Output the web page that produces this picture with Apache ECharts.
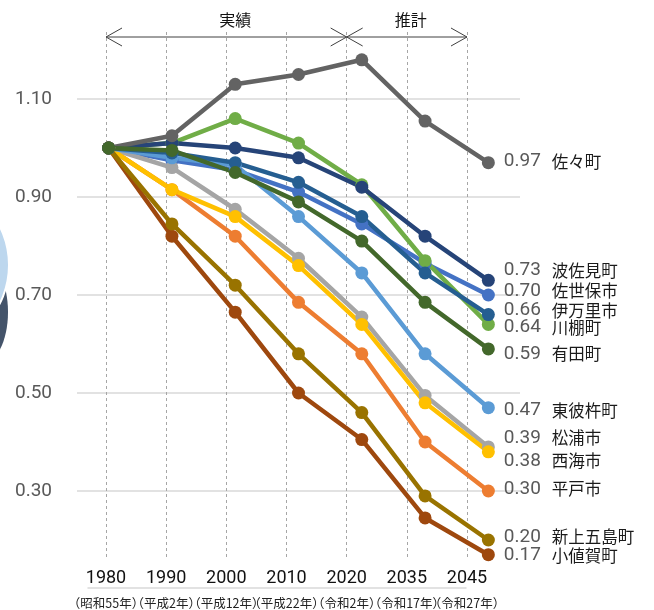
<!DOCTYPE html>
<html>
<head>
<meta charset="utf-8">
<script src="https://cdn.jsdelivr.net/npm/echarts@6/dist/echarts.min.js"></script>
<style>
  html, body { margin: 0; padding: 0; background: #ffffff; }
  #chart { width: 654px; height: 610px; }
</style>
</head>
<body>
<div id="chart"></div>
<script>
// ---- data ----
const years = ['1980', '1990', '2000', '2010', '2020', '2035', '2045'];
const eras = ['（昭和55年）', '（平成2年）', '（平成12年）', '（平成22年）', '（令和2年）', '（令和17年）', '（令和27年）'];

const sasebo      = [1.00, 0.975, 0.955, 0.91, 0.845, 0.765, 0.70];
const hirado      = [1.00, 0.915, 0.82, 0.685, 0.58, 0.40, 0.30];
const matsuura    = [1.00, 0.96, 0.875, 0.775, 0.655, 0.495, 0.39];
const saikai      = [1.00, 0.915, 0.86, 0.76, 0.64, 0.48, 0.38];
const higashisonogi = [1.00, 0.98, 0.965, 0.86, 0.745, 0.58, 0.47];
const kawatana    = [1.00, 1.01, 1.06, 1.01, 0.925, 0.77, 0.64];
const hasami      = [1.00, 1.01, 1.00, 0.98, 0.92, 0.82, 0.73];
const ojika       = [1.00, 0.82, 0.665, 0.50, 0.405, 0.245, 0.17];
const saza        = [1.00, 1.025, 1.13, 1.15, 1.18, 1.055, 0.97];
const shinkamigoto = [1.00, 0.845, 0.72, 0.58, 0.46, 0.29, 0.20];
const imari       = [1.00, 0.99, 0.97, 0.93, 0.86, 0.745, 0.66];
const arita       = [1.00, 0.995, 0.95, 0.89, 0.81, 0.685, 0.59];

const seriesNames = ['佐世保市', '平戸市', '松浦市', '西海市', '東彼杵町', '川棚町', '波佐見町', '小値賀町', '佐々町', '新上五島町', '伊万里市', '有田町'];
const seriesValues = [sasebo, hirado, matsuura, saikai, higashisonogi, kawatana, hasami, ojika, saza, shinkamigoto, imari, arita];

// ---- styles ----
const colors = ['#4472c4', '#ed7d31', '#a5a5a5', '#ffc000', '#5b9bd5', '#70ad47', '#264478', '#9e480e', '#636363', '#997300', '#255e91', '#43682b'];
const labelDy = [-4, -2, -9, 9, 3, 3, -10, 1, -1, -3, -4, 5];

const FONT = 'Roboto, "Noto Sans CJK JP", sans-serif';
const JP = '"Noto Sans CJK JP", sans-serif';

const chart = echarts.init(document.getElementById('chart'), null, { renderer: 'canvas' });

const series = seriesNames.map((name, s) => {
  const vals = seriesValues[s];
  const last = vals.length - 1;
  return {
    name: name,
    type: 'line',
    xAxisIndex: 0,
    yAxisIndex: 0,
    symbol: 'circle',
    symbolSize: 13,
    showSymbol: true,
    lineStyle: { width: 4.5, color: colors[s] },
    itemStyle: { color: colors[s] },
    emphasis: { disabled: true },
    data: vals.map((v, i) => i === last ? {
      value: v,
      label: {
        show: true,
        position: 'right',
        distance: 9,
        offset: [0, labelDy[s]],
        formatter: () => '{v|' + v.toFixed(2) + '}{n|' + name + '}',
        rich: {
          v: { fontFamily: FONT, fontSize: 19, color: '#595959', width: 48 },
          n: { fontFamily: JP, fontSize: 16.5, color: '#1a1a1a' }
        }
      }
    } : v)
  };
});

const option = {
  animation: false,
  backgroundColor: '#ffffff',
  grid: [
    { left: 77, right: 134, top: 1, bottom: 21 },
    { left: 106, right: 187, top: 32, bottom: 53 },
    { left: 88, right: 188, top: 587, bottom: 22 }
  ],
  xAxis: [
    {
      gridIndex: 0, type: 'category', data: years, boundaryGap: true,
      axisLine: { show: false }, axisTick: { show: false }, axisLabel: { show: false }, splitLine: { show: false }
    },
    {
      gridIndex: 1, type: 'category', data: years, boundaryGap: false,
      axisLine: { show: false }, axisTick: { show: false },
      splitLine: { show: true, lineStyle: { color: '#a6a6a6', type: [3, 3], width: 1 } },
      axisLabel: {
        show: true, interval: 0, margin: 10,
        formatter: (val, idx) => '{a|' + val + '}\n{s|' + eras[idx] + '}',
        rich: {
          a: { fontFamily: FONT, fontSize: 18, color: '#111111', lineHeight: 22 },
          s: { fontFamily: JP, fontSize: 12.5, color: '#222222', lineHeight: 28 }
        }
      }
    },
    {
      gridIndex: 2, type: 'category', data: years,
      axisLine: { show: true, lineStyle: { color: '#d9d9d9', width: 1.5 } },
      axisTick: { show: false }, axisLabel: { show: false }, splitLine: { show: false }
    }
  ],
  yAxis: [
    {
      gridIndex: 0, type: 'value', min: 0.1, max: 1.3, interval: 0.2,
      axisLine: { show: false }, axisTick: { show: false },
      splitLine: { show: true, showMinLine: false, showMaxLine: false, lineStyle: { color: '#d9d9d9', width: 1.5 } },
      axisLabel: {
        show: true, margin: 25, showMinLabel: false, showMaxLabel: false,
        fontFamily: FONT, fontSize: 19, color: '#595959',
        formatter: v => v.toFixed(2)
      }
    },
    { gridIndex: 1, type: 'value', min: 0, max: 1, show: false },
    { gridIndex: 2, type: 'value', min: 0, max: 1, show: false }
  ],
  series: series
};

chart.setOption(option);

// ---- annotation (実績 / 推計 arrows) aligned to the label axis ----
const px = y => chart.convertToPixel({ xAxisIndex: 1 }, y);
const xStart = px(years[0]);
const xSplit = px(years[4]);
const xEnd = px(years[6]);
const ay = 37, ah = 16, av = 9;
const arrowStyle = { stroke: '#404040', lineWidth: 1 };
const seg = (x1, y1, x2, y2) => ({ type: 'line', shape: { x1, y1, x2, y2 }, style: arrowStyle, silent: true });

chart.setOption({
  graphic: [
    // left decorative shapes
    { type: 'ellipse', shape: { cx: -16, cy: 312, rx: 24, ry: 50 }, style: { fill: '#44546a' }, silent: true, z: 1 },
    { type: 'circle', shape: { cx: -76, cy: 265, r: 85 }, style: { fill: '#bdd7ee', stroke: '#ffffff', lineWidth: 2 }, silent: true, z: 2 },
    // arrows
    seg(xStart, ay, xEnd, ay),
    seg(xStart, ay, xStart + ah, ay - av), seg(xStart, ay, xStart + ah, ay + av),
    seg(xSplit, ay, xSplit - ah, ay - av), seg(xSplit, ay, xSplit - ah, ay + av),
    seg(xSplit, ay, xSplit + ah, ay - av), seg(xSplit, ay, xSplit + ah, ay + av),
    seg(xEnd, ay, xEnd - ah, ay - av), seg(xEnd, ay, xEnd - ah, ay + av),
    { type: 'text', x: (xStart + xSplit) / 2 + 9, y: 20, style: { text: '実績', font: '16px ' + JP, fill: '#111111', align: 'center', verticalAlign: 'middle' }, silent: true },
    { type: 'text', x: (xSplit + xEnd) / 2 + 4, y: 20, style: { text: '推計', font: '16px ' + JP, fill: '#111111', align: 'center', verticalAlign: 'middle' }, silent: true }
  ]
});
</script>
</body>
</html>
